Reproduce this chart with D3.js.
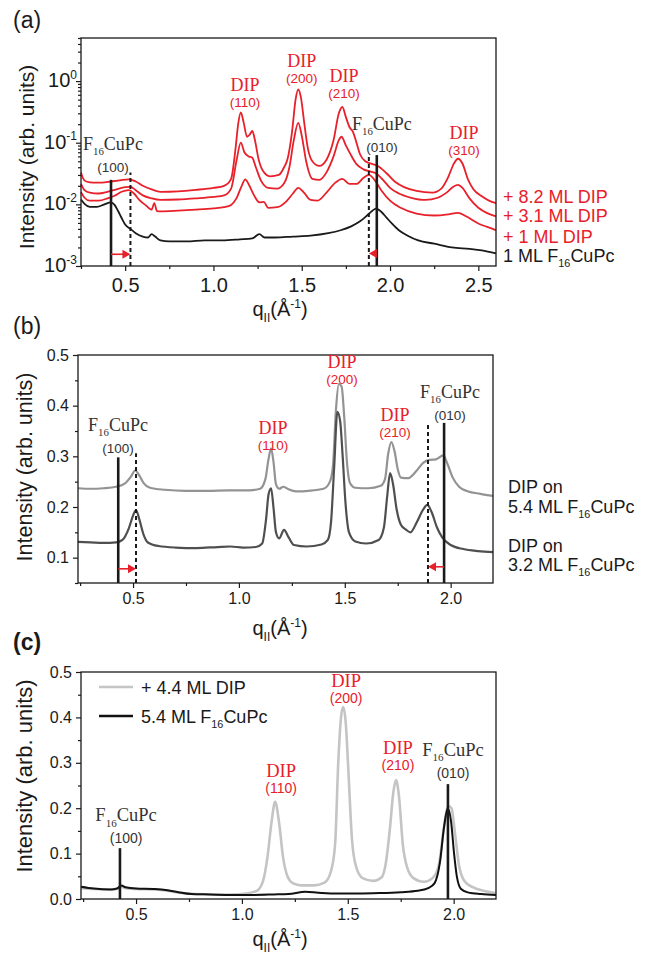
<!DOCTYPE html>
<html>
<head>
<meta charset="utf-8">
<script src="https://cdn.jsdelivr.net/npm/d3@7"></script>
<style>
  html, body { margin: 0; padding: 0; background: #fff; }
  svg { display: block; font-family: 'Liberation Sans', Arial, sans-serif; }
  .serif { font-family: 'Liberation Serif', 'Times New Roman', serif; }
</style>
</head>
<body>
<svg id="fig" width="647" height="957"></svg>
<script>
'use strict';

// ---------- panel (a): GIXD, log intensity vs q ----------
var aCuPc1 = [[0.25,0.012],[0.27,0.0102],[0.30,0.0091],[0.34,0.0091],[0.38,0.0099],[0.42,0.0108],[0.44,0.0098],[0.46,0.0078],[0.48,0.0060],[0.50,0.0047],[0.53,0.0040],[0.56,0.0034],[0.60,0.0030],[0.63,0.0029],[0.65,0.0033],[0.67,0.0030],[0.70,0.0026],[0.75,0.0025],[0.85,0.0025],[0.95,0.0026],[1.05,0.0026],[1.15,0.0027],[1.22,0.0028],[1.26,0.0033],[1.29,0.0029],[1.35,0.0029],[1.45,0.0030],[1.55,0.0031],[1.65,0.0034],[1.72,0.0038],[1.78,0.0044],[1.83,0.0053],[1.87,0.0066],[1.90,0.0079],[1.92,0.0085],[1.95,0.0076],[1.98,0.0061],[2.01,0.0049],[2.05,0.0038],[2.10,0.0031],[2.16,0.0026],[2.25,0.0023],[2.35,0.0020],[2.45,0.0019],[2.52,0.0018],[2.60,0.0016]];
var aDip1 = [[0.25,0.0158],[0.27,0.0128],[0.30,0.0115],[0.35,0.0115],[0.40,0.0125],[0.44,0.0138],[0.48,0.0160],[0.52,0.0170],[0.55,0.0150],[0.58,0.0118],[0.62,0.0095],[0.65,0.0082],[0.665,0.0105],[0.68,0.0078],[0.70,0.0077],[0.80,0.0079],[0.90,0.0082],[1.00,0.0086],[1.06,0.0090],[1.10,0.0098],[1.13,0.0125],[1.16,0.0200],[1.18,0.0255],[1.20,0.0210],[1.23,0.0140],[1.26,0.0108],[1.285,0.0110],[1.31,0.0088],[1.36,0.0090],[1.41,0.0110],[1.45,0.0150],[1.48,0.0185],[1.51,0.0158],[1.55,0.0118],[1.59,0.0115],[1.64,0.0155],[1.69,0.0225],[1.73,0.0260],[1.77,0.0215],[1.81,0.0215],[1.85,0.0270],[1.88,0.0300],[1.91,0.0255],[1.95,0.0170],[2.00,0.0115],[2.06,0.0088],[2.15,0.0071],[2.25,0.0066],[2.33,0.0069],[2.385,0.0073],[2.43,0.0064],[2.50,0.0049],[2.55,0.0043],[2.60,0.0038]];
var aDip31 = [[0.25,0.0215],[0.27,0.0170],[0.30,0.0155],[0.35,0.0150],[0.40,0.0160],[0.45,0.0175],[0.50,0.0190],[0.53,0.0192],[0.56,0.0170],[0.60,0.0140],[0.65,0.0125],[0.70,0.0118],[0.80,0.0120],[0.90,0.0125],[1.00,0.0132],[1.06,0.0140],[1.10,0.0180],[1.13,0.0500],[1.155,0.1000],[1.175,0.0700],[1.20,0.0600],[1.22,0.0570],[1.24,0.0400],[1.27,0.0240],[1.31,0.0185],[1.36,0.0180],[1.40,0.0220],[1.43,0.0400],[1.455,0.1100],[1.48,0.2100],[1.50,0.1300],[1.525,0.0500],[1.56,0.0260],[1.60,0.0250],[1.64,0.0330],[1.68,0.0600],[1.71,0.1100],[1.725,0.1250],[1.75,0.0900],[1.78,0.0620],[1.81,0.0450],[1.85,0.0370],[1.89,0.0340],[1.92,0.0320],[1.96,0.0250],[2.00,0.0185],[2.05,0.0150],[2.12,0.0128],[2.20,0.0118],[2.27,0.0128],[2.32,0.0155],[2.36,0.0195],[2.385,0.0207],[2.41,0.0185],[2.45,0.0125],[2.50,0.0088],[2.55,0.0072],[2.60,0.0064]];
var aDip82 = [[0.25,0.0330],[0.26,0.0270],[0.28,0.0235],[0.32,0.0225],[0.37,0.0225],[0.42,0.0235],[0.47,0.0245],[0.52,0.0255],[0.56,0.0235],[0.60,0.0200],[0.65,0.0175],[0.70,0.0160],[0.80,0.0163],[0.90,0.0172],[1.00,0.0185],[1.06,0.0200],[1.10,0.0260],[1.125,0.0800],[1.14,0.2000],[1.155,0.3100],[1.17,0.2200],[1.19,0.1250],[1.205,0.1350],[1.22,0.1550],[1.235,0.1100],[1.255,0.0550],[1.28,0.0350],[1.32,0.0285],[1.37,0.0300],[1.40,0.0400],[1.42,0.0550],[1.445,0.1500],[1.465,0.5000],[1.48,0.7300],[1.495,0.5500],[1.515,0.2000],[1.535,0.0800],[1.56,0.0500],[1.60,0.0420],[1.64,0.0530],[1.68,0.1100],[1.71,0.3000],[1.73,0.3800],[1.75,0.2600],[1.77,0.1800],[1.79,0.1500],[1.81,0.1000],[1.83,0.0650],[1.86,0.0500],[1.90,0.0450],[1.93,0.0420],[1.98,0.0320],[2.03,0.0230],[2.08,0.0190],[2.15,0.0165],[2.24,0.0155],[2.29,0.0180],[2.33,0.0280],[2.36,0.0450],[2.385,0.0550],[2.41,0.0460],[2.44,0.0260],[2.47,0.0180],[2.52,0.0135],[2.56,0.0115],[2.60,0.0105]];
var aLegend = ['+ 8.2 ML DIP', '+ 3.1 ML DIP', '+ 1 ML DIP', '1 ML F|16|CuPc'];
var aMarks = [{q: 0.42, top: 0.025, dashed: false}, {q: 0.53, top: 0.033, dashed: true},
  {q: 1.88, top: 0.059, dashed: true}, {q: 1.925, top: 0.063, dashed: false}];
var aArrows = [{from: 0.42, to: 0.53, at: 0.00155}, {from: 1.925, to: 1.88, at: 0.0016}];
var aLabels = [{q: 0.431, v: 0.0335, kind: 'CuPc', hkl: '(100)'}, {q: 1.179, v: 0.38, kind: 'DIP', hkl: '(110)'},
  {q: 1.50, v: 0.93, kind: 'DIP', hkl: '(200)'}, {q: 1.739, v: 0.53, kind: 'DIP', hkl: '(210)'},
  {q: 1.954, v: 0.0706, kind: 'CuPc', hkl: '(010)'}, {q: 2.419, v: 0.063, kind: 'DIP', hkl: '(310)'}];

// ---------- panel (b): DIP on two F16CuPc thicknesses ----------
var bOn54 = [[0.24,0.237],[0.30,0.236],[0.36,0.237],[0.42,0.240],[0.46,0.246],[0.49,0.260],[0.51,0.272],[0.53,0.262],[0.55,0.247],[0.58,0.238],[0.65,0.234],[0.75,0.232],[0.85,0.232],[0.95,0.233],[1.05,0.233],[1.10,0.236],[1.125,0.255],[1.14,0.295],[1.152,0.316],[1.163,0.290],[1.175,0.245],[1.19,0.236],[1.21,0.240],[1.23,0.236],[1.27,0.231],[1.33,0.232],[1.40,0.236],[1.43,0.250],[1.445,0.285],[1.458,0.390],[1.472,0.443],[1.485,0.438],[1.497,0.380],[1.51,0.290],[1.525,0.247],[1.55,0.238],[1.61,0.237],[1.67,0.242],[1.69,0.255],[1.705,0.305],[1.72,0.328],[1.735,0.310],[1.75,0.275],[1.765,0.258],[1.80,0.257],[1.84,0.272],[1.87,0.287],[1.90,0.293],[1.93,0.294],[1.965,0.302],[1.985,0.285],[2.01,0.258],[2.04,0.240],[2.08,0.231],[2.14,0.226],[2.20,0.222]];
var bOn32 = [[0.24,0.131],[0.30,0.130],[0.36,0.129],[0.42,0.130],[0.45,0.135],[0.48,0.158],[0.50,0.183],[0.514,0.194],[0.53,0.175],[0.55,0.145],[0.57,0.130],[0.62,0.123],[0.70,0.120],[0.80,0.119],[0.90,0.121],[0.96,0.122],[1.02,0.120],[1.08,0.121],[1.11,0.128],[1.128,0.175],[1.14,0.225],[1.152,0.237],[1.163,0.200],[1.175,0.150],[1.19,0.138],[1.213,0.155],[1.235,0.140],[1.26,0.125],[1.32,0.122],[1.39,0.126],[1.42,0.135],[1.435,0.170],[1.45,0.280],[1.465,0.388],[1.478,0.370],[1.49,0.300],[1.503,0.210],[1.52,0.150],[1.55,0.132],[1.60,0.128],[1.66,0.135],[1.685,0.160],[1.70,0.220],[1.714,0.267],[1.728,0.245],[1.745,0.195],[1.765,0.165],[1.79,0.155],[1.81,0.150],[1.84,0.170],[1.87,0.195],[1.89,0.204],[1.91,0.190],[1.935,0.160],[1.96,0.140],[2.00,0.125],[2.06,0.117],[2.13,0.113],[2.20,0.111]];
var bLegend = [['DIP on', '5.4 ML F|16|CuPc'], ['DIP on', '3.2 ML F|16|CuPc']];
var bMarks = [{q: 0.43, top: 0.298, dashed: false}, {q: 0.514, top: 0.306, dashed: true},
  {q: 1.893, top: 0.366, dashed: true}, {q: 1.969, top: 0.366, dashed: false}];
var bArrows = [{from: 0.43, to: 0.514, at: 0.078}, {from: 1.969, to: 1.893, at: 0.082}];
var bLabels = [{q: 0.429, v: 0.307, kind: 'CuPc', hkl: '(100)'}, {q: 1.161, v: 0.312, kind: 'DIP', hkl: '(110)'},
  {q: 1.487, v: 0.443, kind: 'DIP', hkl: '(200)'}, {q: 1.737, v: 0.338, kind: 'DIP', hkl: '(210)'},
  {q: 1.997, v: 0.372, kind: 'CuPc', hkl: '(010)'}];

// ---------- panel (c): before / after DIP ----------
var cDip44 = [[0.24,0.024],[0.30,0.022],[0.38,0.021],[0.41,0.022],[0.43,0.027],[0.45,0.024],[0.50,0.022],[0.58,0.021],[0.64,0.019],[0.70,0.014],[0.78,0.011],[0.86,0.010],[0.95,0.010],[1.02,0.012],[1.07,0.018],[1.10,0.040],[1.12,0.090],[1.14,0.170],[1.157,0.214],[1.175,0.170],[1.195,0.090],[1.215,0.050],[1.24,0.035],[1.28,0.030],[1.34,0.030],[1.39,0.036],[1.42,0.060],[1.44,0.120],[1.455,0.300],[1.468,0.400],[1.478,0.423],[1.49,0.390],[1.502,0.290],[1.52,0.130],[1.54,0.070],[1.57,0.046],[1.62,0.040],[1.66,0.048],[1.68,0.080],[1.70,0.160],[1.715,0.235],[1.728,0.262],[1.742,0.225],[1.76,0.120],[1.78,0.070],[1.81,0.046],[1.86,0.038],[1.90,0.046],[1.93,0.075],[1.955,0.160],[1.975,0.205],[1.99,0.200],[2.005,0.150],[2.025,0.075],[2.05,0.040],[2.09,0.026],[2.14,0.018],[2.20,0.013]];
var cCuPc54 = [[0.24,0.027],[0.30,0.023],[0.38,0.021],[0.41,0.023],[0.43,0.030],[0.45,0.026],[0.50,0.023],[0.58,0.022],[0.64,0.020],[0.70,0.015],[0.76,0.011],[0.85,0.010],[0.95,0.009],[1.05,0.009],[1.15,0.010],[1.22,0.011],[1.30,0.016],[1.36,0.014],[1.45,0.012],[1.55,0.012],[1.65,0.013],[1.75,0.015],[1.83,0.018],[1.88,0.024],[1.91,0.035],[1.935,0.080],[1.955,0.160],[1.972,0.200],[1.988,0.170],[2.002,0.100],[2.015,0.050],[2.035,0.022],[2.07,0.014],[2.13,0.011],[2.20,0.009]];
var cLegend = ['+ 4.4 ML DIP', '5.4 ML F|16|CuPc'];
var cMarks = [{q: 0.424, top: 0.112, dashed: false}, {q: 1.973, top: 0.253, dashed: false}];
var cLabels = [{q: 0.453, v: 0.123, kind: 'CuPc', hkl: '(100)'}, {q: 1.185, v: 0.233, kind: 'DIP', hkl: '(110)'},
  {q: 1.492, v: 0.432, kind: 'DIP', hkl: '(200)'}, {q: 1.737, v: 0.284, kind: 'DIP', hkl: '(210)'},
  {q: 1.997, v: 0.267, kind: 'CuPc', hkl: '(010)'}];

var qMajorA = [0.5, 1.0, 1.5, 2.0, 2.5];
var qMinorA = [0.25, 0.75, 1.25, 1.75, 2.25];
var qMajor = [0.5, 1.0, 1.5, 2.0];
var qMinor = [0.25, 0.75, 1.25, 1.75];
var iMajor = [0.1, 0.2, 0.3, 0.4, 0.5];
var iMinorB = [0.05, 0.15, 0.25, 0.35, 0.45];
var iMajorC = [0.0, 0.1, 0.2, 0.3, 0.4, 0.5];
var logMajor = [1e-3, 1e-2, 1e-1, 1];

var RED = '#e8202a';
var INK = '#1a1a1a';
var LABEL_INK = '#333';
var NARROW = "'Liberation Sans Narrow', 'Arial Narrow', 'Liberation Sans', sans-serif";

var svg = d3.select('#fig');

// text with sub/superscripts, "F|16|CuPc" -> F, sub 16, CuPc
var richText = function(parent, x, y, parts, size, anchor) {
	var t = parent.append('text').attr('x', x).attr('y', y)
		.attr('font-size', size).attr('text-anchor', anchor || 'start');
	var shift = 0;
	parts.forEach(function(p) {
		var target = 0;
		if (p[1] === 'sub') {
			target = size * 0.3;
		}
		if (p[1] === 'sup') {
			target = -size * 0.42;
		}
		var s = t.append('tspan').text(p[0]).attr('dy', target - shift);
		if (p[1]) {
			s.attr('font-size', size * 0.6);
		}
		shift = target;
	});
	return t;
};
var subParts = function(str) {
	return str.split('|').map(function(s, i) {
		return [s, i % 2 === 1 ? 'sub' : ''];
	});
};

var frame = function(g, x, y) {
	var xr = x.range(), yr = y.range();
	g.append('rect').attr('x', xr[0]).attr('y', yr[1])
		.attr('width', xr[1] - xr[0]).attr('height', yr[0] - yr[1])
		.attr('fill', 'none').attr('stroke', INK).attr('stroke-width', 1.3);
};

var styleAxis = function(s, size, family) {
	s.select('.domain').remove();
	s.selectAll('line').attr('stroke', INK).attr('stroke-width', 1.2);
	s.selectAll('text').attr('font-size', size).attr('font-family', family).attr('fill', INK);
};

var xAxis = function(g, x, y, major, minor, size, family, pad) {
	var base = y.range()[0];
	g.append('g').attr('transform', 'translate(0,' + base + ')')
		.call(d3.axisBottom(x).tickValues(minor).tickSize(3).tickFormat(''))
		.call(function(s) { styleAxis(s, size, family); });
	g.append('g').attr('transform', 'translate(0,' + base + ')')
		.call(d3.axisBottom(x).tickValues(major).tickSize(5).tickPadding(pad).tickFormat(d3.format('.1f')))
		.call(function(s) { styleAxis(s, size, family); });
};

var yAxis = function(g, x, y, major, minor, size) {
	var left = x.range()[0];
	g.append('g').attr('transform', 'translate(' + left + ',0)')
		.call(d3.axisLeft(y).tickValues(minor).tickSize(3).tickFormat(''))
		.call(function(s) { styleAxis(s, size, null); });
	g.append('g').attr('transform', 'translate(' + left + ',0)')
		.call(d3.axisLeft(y).tickValues(major).tickSize(5).tickPadding(4).tickFormat(d3.format('.1f')))
		.call(function(s) { styleAxis(s, size, "'Liberation Sans', Arial, sans-serif"); });
};

var drawLine = function(g, x, y, data, color, width) {
	var line = d3.line()
		.x(function(d) { return x(d[0]); })
		.y(function(d) { return y(d[1]); })
		.curve(d3.curveMonotoneX);
	g.append('path').datum(data).attr('d', line)
		.attr('fill', 'none').attr('stroke', color).attr('stroke-width', width)
		.attr('stroke-linejoin', 'round');
};

var drawMarks = function(g, x, y, marks) {
	marks.forEach(function(m) {
		g.append('line').attr('x1', x(m.q)).attr('x2', x(m.q))
			.attr('y1', y.range()[0]).attr('y2', y(m.top))
			.attr('stroke', INK).attr('stroke-width', m.dashed ? 2 : 2.6)
			.attr('stroke-dasharray', m.dashed ? '4,3' : null);
	});
};

var drawArrows = function(g, x, y, arrows) {
	arrows.forEach(function(a) {
		var x1 = x(a.from), x2 = x(a.to), yy = y(a.at);
		var dir = x2 > x1 ? 1 : -1;
		g.append('line').attr('x1', x1).attr('x2', x2 - dir * 6).attr('y1', yy).attr('y2', yy)
			.attr('stroke', RED).attr('stroke-width', 1.6);
		g.append('path').attr('d', 'M' + x2 + ',' + yy + 'l' + (-dir * 8) + ',-4.5l0,9z').attr('fill', RED);
	});
};

var drawPeakLabels = function(g, x, y, labels, hklSize, nameSize) {
	labels.forEach(function(l) {
		var cx = x(l.q), by = y(l.v);
		var color = l.kind === 'DIP' ? RED : LABEL_INK;
		g.append('text').attr('x', cx).attr('y', by).attr('text-anchor', 'middle')
			.attr('font-size', hklSize).attr('fill', color).text(l.hkl);
		if (l.kind === 'DIP') {
			g.append('text').attr('class', 'serif').attr('x', cx).attr('y', by - 16)
				.attr('text-anchor', 'middle').attr('font-size', nameSize).attr('fill', color).text('DIP');
		} else {
			richText(g, cx, by - 22, subParts('F|16|CuPc'), nameSize, 'middle')
				.attr('class', 'serif').attr('fill', color);
		}
	});
};

var qTitle = function(g, cx, baseline) {
	richText(g, cx, baseline, [['q', ''], ['II', 'sub'], ['(Å', ''], ['-1', 'sup'], [')', '']], 20, 'middle')
		.attr('fill', INK);
};
var iTitle = function(g, bx, cy, size) {
	g.append('text').attr('transform', 'translate(' + bx + ',' + cy + ') rotate(-90)')
		.attr('text-anchor', 'middle').attr('font-size', size).attr('fill', INK)
		.text('Intensity (arb. units)');
};

// ================= (a) =================
(function() {
	var g = svg.append('g');
	var x = d3.scaleLinear().domain([0.25, 2.6]).range([81, 496]);
	var y = d3.scaleLog().domain([1e-3, 5]).range([266, 38]);

	var minor = [];
	[1e-3, 1e-2, 1e-1, 1].forEach(function(dec) {
		for (var k = 2; k <= 9; k++) {
			if (dec * k <= 5) {
				minor.push(dec * k);
			}
		}
	});
	g.append('g').attr('transform', 'translate(81,0)')
		.call(d3.axisLeft(y).tickValues(minor).tickSize(3).tickFormat(''))
		.call(function(s) { styleAxis(s, 15, null); });
	g.append('g').attr('transform', 'translate(81,0)')
		.call(d3.axisLeft(y).tickValues(logMajor).tickSize(5).tickFormat(''))
		.call(function(s) { styleAxis(s, 15, null); });
	logMajor.forEach(function(v) {
		richText(g, 77, y(v) + 6, [['10', ''], [String(Math.round(Math.log10(v))), 'sup']], 20, 'end')
			.attr('font-family', NARROW).attr('fill', INK);
	});
	xAxis(g, x, y, qMajorA, qMinorA, 20, NARROW, 7);

	drawLine(g, x, y, aCuPc1, INK, 1.8);
	drawLine(g, x, y, aDip1, RED, 1.8);
	drawLine(g, x, y, aDip31, RED, 1.8);
	drawLine(g, x, y, aDip82, RED, 1.8);
	drawMarks(g, x, y, aMarks);
	drawArrows(g, x, y, aArrows);
	frame(g, x, y);
	drawPeakLabels(g, x, y, aLabels, 13.5, 18);

	var legY = [203, 222, 243, 262];
	aLegend.forEach(function(txt, i) {
		richText(g, 503, legY[i], subParts(txt), 18, 'start')
			.attr('fill', i < 3 ? RED : INK);
	});

	iTitle(g, 34, 157, 21);
	qTitle(g, 280, 316);
	g.append('text').attr('x', 13).attr('y', 28).attr('font-size', 23).attr('fill', INK).text('(a)');
})();

// ================= (b) =================
(function() {
	var g = svg.append('g');
	var x = d3.scaleLinear().domain([0.24, 2.2]).range([78, 493]);
	var y = d3.scaleLinear().domain([0.05, 0.5]).range([583, 355]);

	yAxis(g, x, y, iMajor, iMinorB, 16);
	xAxis(g, x, y, qMajor, qMinor, 16, "'Liberation Sans', Arial, sans-serif", 5);

	drawLine(g, x, y, bOn54, '#939393', 2.2);
	drawLine(g, x, y, bOn32, '#4f4f4f', 2.2);
	drawMarks(g, x, y, bMarks);
	drawArrows(g, x, y, bArrows);
	frame(g, x, y);
	drawPeakLabels(g, x, y, bLabels, 13.5, 18);

	var legY = [[493, 513], [552, 571]];
	bLegend.forEach(function(pair, i) {
		g.append('text').attr('x', 508).attr('y', legY[i][0]).attr('font-size', 18).attr('fill', INK).text(pair[0]);
		richText(g, 508, legY[i][1], subParts(pair[1]), 18, 'start').attr('fill', INK);
	});

	iTitle(g, 32, 467, 21.5);
	qTitle(g, 280, 635);
	g.append('text').attr('x', 13).attr('y', 334).attr('font-size', 23).attr('fill', INK).text('(b)');
})();

// ================= (c) =================
(function() {
	var g = svg.append('g');
	var x = d3.scaleLinear().domain([0.24, 2.2]).range([81, 496]);
	var y = d3.scaleLinear().domain([0, 0.5]).range([899, 672]);

	yAxis(g, x, y, iMajorC, iMinorB, 16);
	xAxis(g, x, y, qMajor, qMinor, 16, "'Liberation Sans', Arial, sans-serif", 5);

	drawLine(g, x, y, cDip44, '#c4c4c4', 2.6);
	drawLine(g, x, y, cCuPc54, '#111', 2.0);
	drawMarks(g, x, y, cMarks);
	frame(g, x, y);
	drawPeakLabels(g, x, y, cLabels, 14, 18.5);

	var legColors = ['#c4c4c4', '#111'];
	var legY = [687, 716];
	cLegend.forEach(function(txt, i) {
		g.append('line').attr('x1', 99).attr('x2', 133).attr('y1', legY[i]).attr('y2', legY[i])
			.attr('stroke', legColors[i]).attr('stroke-width', 2.6);
		richText(g, 141, legY[i] + 7, subParts(txt), 18, 'start').attr('fill', INK);
	});

	iTitle(g, 32, 776, 22);
	qTitle(g, 280, 946);
	g.append('text').attr('x', 13).attr('y', 650).attr('font-size', 23).attr('font-weight', 'bold')
		.attr('fill', INK).text('(c)');
})();
</script>
</body>
</html>
